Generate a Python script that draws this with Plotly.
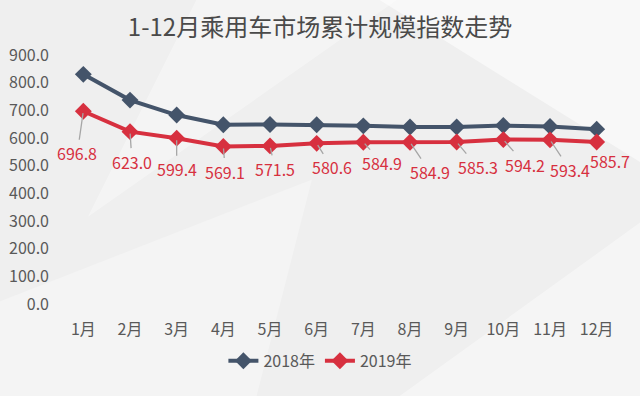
import plotly.graph_objects as go

months = ["1月", "2月", "3月", "4月", "5月", "6月", "7月", "8月", "9月", "10月", "11月", "12月"]
values_2018 = [830, 737, 683, 648, 649, 648, 644, 640, 640, 645, 642, 632]
values_2019 = [696.8, 623.0, 599.4, 569.1, 571.5, 580.6, 584.9, 584.9, 585.3, 594.2, 593.4, 585.7]
y_ticks = [0, 100, 200, 300, 400, 500, 600, 700, 800, 900]
title_text = "1-12月乘用车市场累计规模指数走势"

# label offsets (pixels) for the 2019 data labels
label_dx = [-6, 2, 0, 2, 5, 15, 19, 20, 21, 22, 20, 13]
label_dy = [42, 30, 31, 25, 23, 24, 21, 30, 25, 25, 30, 19]

C18 = "#44546A"
C19 = "#D7303F"
FONT = "Noto Sans CJK SC"

fig = go.Figure()
fig.add_trace(go.Scatter(
    x=months, y=values_2018, name="2018年", mode="lines+markers",
    line=dict(color=C18, width=4),
    marker=dict(symbol="diamond", size=13, color=C18),
))
fig.add_trace(go.Scatter(
    x=months, y=values_2019, name="2019年", mode="lines+markers",
    line=dict(color=C19, width=4),
    marker=dict(symbol="diamond", size=13, color=C19),
))

annotations = []
for i, (m, v) in enumerate(zip(months, values_2019)):
    show = i != len(months) - 1
    ann = dict(
        x=m, y=v, xref="x", yref="y", text=f"{v:.1f}",
        font=dict(family=FONT, size=16, color=C19),
    )
    if show:
        ann.update(showarrow=True, ax=label_dx[i], ay=label_dy[i], axref="pixel", ayref="pixel",
                   arrowhead=0, arrowwidth=1.3, arrowcolor="#A6A6A6", standoff=2)
    else:
        ann.update(showarrow=False, xshift=label_dx[i], yshift=-label_dy[i])
    annotations.append(ann)

# subtle background polygons
shapes = [
    dict(type="path", xref="paper", yref="paper", layer="below",
         path="M 0.55 1.25 L 1.05 1.25 L 1.05 0.55 Z", fillcolor="rgba(255,255,255,0.55)", line=dict(width=0)),
    dict(type="path", xref="paper", yref="paper", layer="below",
         path="M 0.25 1.25 L 0.62 1.25 L 0.05 0.35 Z", fillcolor="rgba(255,255,255,0.35)", line=dict(width=0)),
    dict(type="path", xref="paper", yref="paper", layer="below",
         path="M -0.12 0.0 L 0.45 0.5 L 0.35 -0.38 L -0.12 -0.38 Z", fillcolor="rgba(255,255,255,0.3)", line=dict(width=0)),
    dict(type="path", xref="paper", yref="paper", layer="below",
         path="M 0.6 -0.38 L 1.05 0.35 L 1.05 -0.38 Z", fillcolor="rgba(255,255,255,0.4)", line=dict(width=0)),
]

fig.update_layout(
    width=640, height=396,
    paper_bgcolor="#EFEFEF", plot_bgcolor="rgba(0,0,0,0)",
    margin=dict(l=60, r=20, t=55, b=92, autoexpand=False),
    title=dict(text=title_text, x=0.5, xanchor="center", y=0.93, yanchor="middle",
               font=dict(family=FONT, size=24, color="#4A4A4A")),
    font=dict(family=FONT, size=16, color="#595959"),
    showlegend=True,
    legend=dict(orientation="h", x=0.465, xanchor="center", y=-0.16, yanchor="top",
                font=dict(family=FONT, size=16, color="#595959"),
                bgcolor="rgba(0,0,0,0)", itemwidth=30, tracegroupgap=0),
    annotations=annotations,
    shapes=shapes,
    xaxis=dict(type="category", range=[-0.5, 11.5], showgrid=False, zeroline=False, showline=False,
               ticks="", ticklabelstandoff=14, automargin=False,
               tickfont=dict(family=FONT, size=16, color="#595959"), fixedrange=True),
    yaxis=dict(range=[0, 900], tickvals=y_ticks, tickformat=".1f", showgrid=False, zeroline=False,
               showline=False, ticks="", ticklabelstandoff=10, automargin=False,
               tickfont=dict(family=FONT, size=16, color="#595959"), fixedrange=True),
)

fig.write_html("out.html", config={"displayModeBar": False},
               post_script="document.body.style.margin='0';")
